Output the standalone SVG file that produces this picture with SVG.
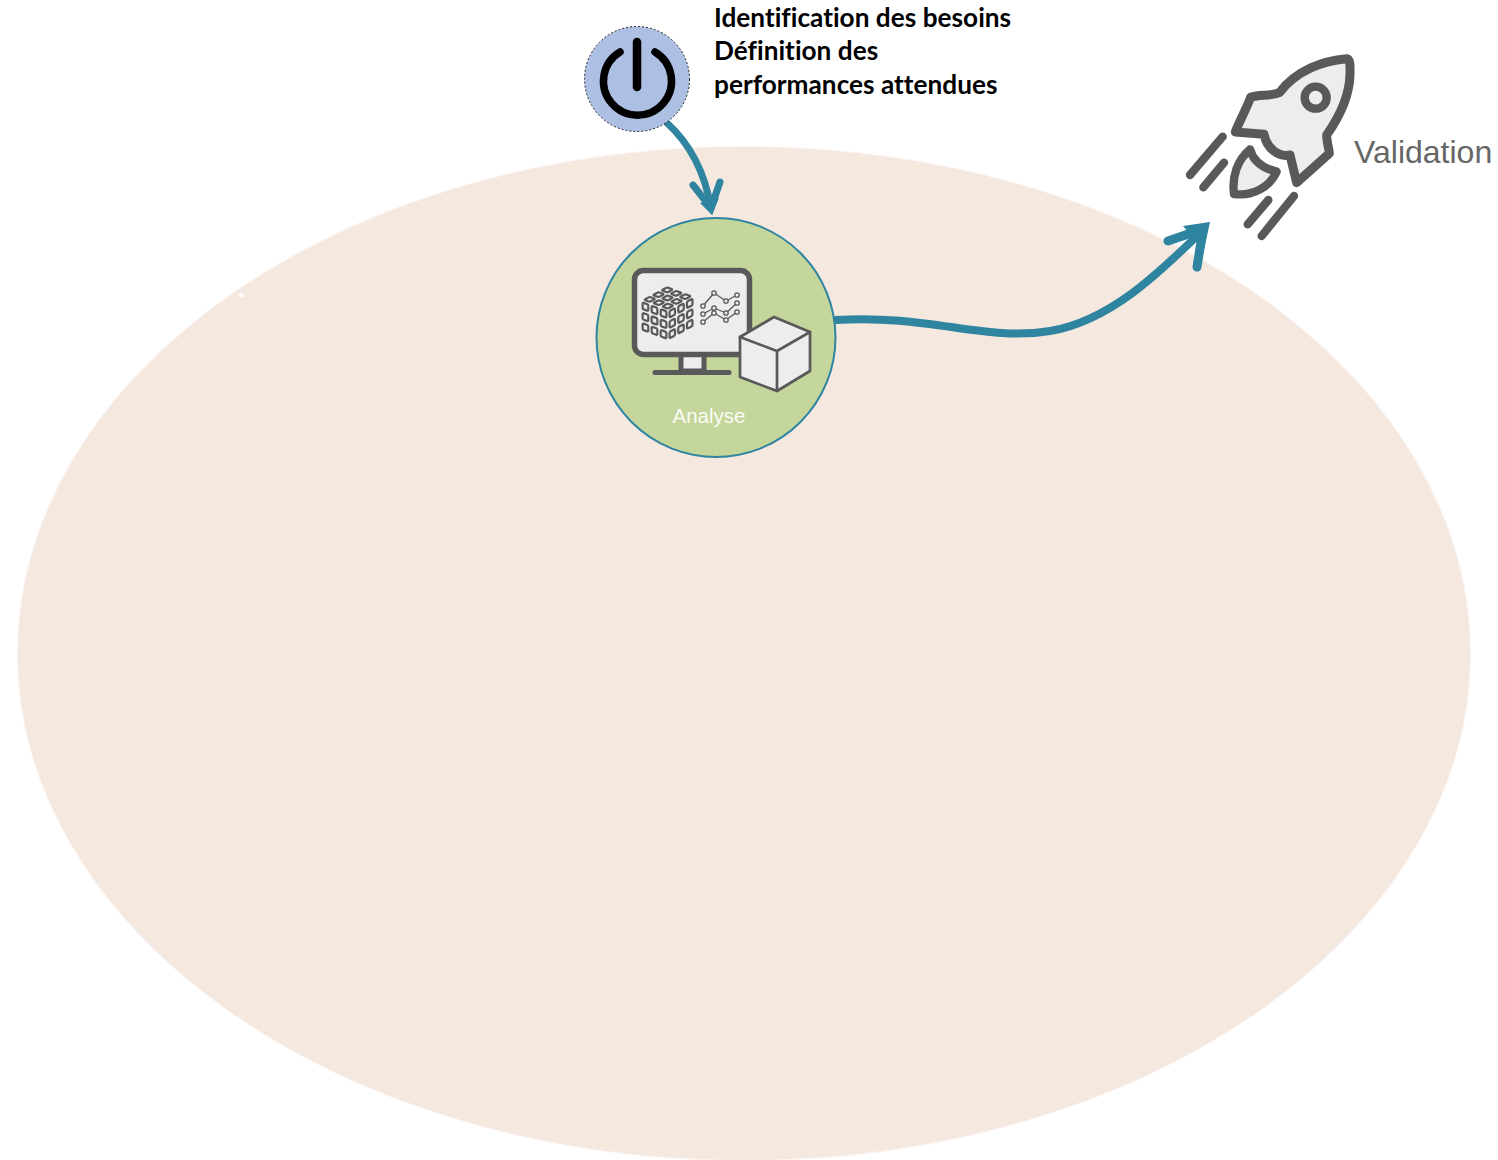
<svg xmlns="http://www.w3.org/2000/svg" xmlns:xlink="http://www.w3.org/1999/xlink" width="1498" height="1160" viewBox="0 0 1498 1160">
<style>
.title{font-family:"Lato","Open Sans",sans-serif;font-weight:700;font-size:26.2px;fill:#000;font-variant-ligatures:none;letter-spacing:.02px}
.ink{fill:none;stroke:#595959;stroke-linecap:round;stroke-linejoin:round}
.pale{fill:#ededed;stroke:#595959;stroke-linejoin:round}
.conn{fill:none;stroke:#2f84a0;stroke-linecap:round}
.head{fill:none;stroke:#2f84a0;stroke-linecap:round;stroke-linejoin:miter;stroke-miterlimit:10}
.tip{fill:#2f84a0}
.cell{fill:#ededed;stroke:#595959;stroke-width:2.2px;vector-effect:non-scaling-stroke}
.dot{fill:#ededed;stroke:#595959;stroke-width:1.3}
</style>
<defs>
<rect id="c" class="cell" width=".21" height=".21" rx=".04"/>
<g id="face">
<use xlink:href="#c" x=".06" y=".06"/><use xlink:href="#c" x=".395" y=".06"/><use xlink:href="#c" x=".73" y=".06"/>
<use xlink:href="#c" x=".06" y=".395"/><use xlink:href="#c" x=".395" y=".395"/><use xlink:href="#c" x=".73" y=".395"/>
<use xlink:href="#c" x=".06" y=".73"/><use xlink:href="#c" x=".395" y=".73"/><use xlink:href="#c" x=".73" y=".73"/>
</g>
<circle id="d" class="dot" r="2.2"/>
</defs>
<g id="background">
<ellipse cx="744" cy="653.5" rx="726" ry="506.5" fill="#f5e8df" stroke="#f5e8df" stroke-opacity=".5" stroke-width="2"/>
<circle cx="241" cy="295" r="2.500" fill="#fff"/>
</g>
<g id="connectors">
<path class="conn" stroke-width="7" d="M667,123 C688,142 704,168 711,208"/>
<path class="head" stroke-width="7" d="M693,185 L711,208 L720,182"/>
<path class="tip" d="M700,203 L712,215 L719,198 Z"/>
<path class="conn" stroke-width="8" d="M836,320 C930,314 985,342 1050,331 C1110,321 1160,272 1200,233"/>
<path class="head" stroke-width="9" d="M1168,241 L1203,229 L1197,267"/>
<path class="tip" d="M1183,226 L1210,222 L1204,250 Z"/>
</g>
<g id="node-start">
<circle cx="637" cy="79" r="52.500" fill="#aebfe4" stroke="#222" stroke-width="1" stroke-dasharray="2 2"/>
<path d="M620,52 A34,34 0 1 0 655,52" fill="none" stroke="#000" stroke-width="7.500" stroke-linecap="round"/>
<path d="M637,42 V87" fill="none" stroke="#000" stroke-width="8.500" stroke-linecap="round"/>
<text class="title" x="714" y="27">Identification des besoins</text>
<text class="title" x="714" y="60">Définition des</text>
<text class="title" x="714" y="94">performances attendues</text>
</g>
<g id="node-analyse">
<circle cx="716" cy="337.500" r="119.500" fill="#c4d69b" stroke="#2f84a0" stroke-width="2"/>
<rect x="681" y="354" width="23" height="17" class="pale" stroke-width="5"/>
<path class="ink" stroke-width="5" d="M655,372.500 H729"/>
<rect x="634.500" y="270.500" width="115" height="84" rx="9" class="pale" stroke-width="5.500"/>
<g transform="matrix(-26,14,27,10,667,286)"><use xlink:href="#face"/></g>
<g transform="matrix(27,10,0,31,641,300)"><use xlink:href="#face"/></g>
<g transform="matrix(26,-14,0,31,668,310)"><use xlink:href="#face"/></g>
<g class="ink" stroke-width="1.300">
<path d="M703,306 L714,293 L726,301 L737,295"/>
<path d="M703,314 L714,308 L726,313 L737,303"/>
<path d="M703,322 L714,313 L726,320 L737,312"/>
</g>
<use xlink:href="#d" x="703" y="306"/><use xlink:href="#d" x="714" y="293"/><use xlink:href="#d" x="726" y="301"/><use xlink:href="#d" x="737" y="295"/>
<use xlink:href="#d" x="703" y="314"/><use xlink:href="#d" x="714" y="308"/><use xlink:href="#d" x="726" y="313"/><use xlink:href="#d" x="737" y="303"/>
<use xlink:href="#d" x="703" y="322"/><use xlink:href="#d" x="714" y="313"/><use xlink:href="#d" x="726" y="320"/><use xlink:href="#d" x="737" y="312"/>
<path class="pale" stroke-width="2.700" d="M774,317 L810,332 V371 L777,391 L740,377 V337 Z"/>
<path class="ink" stroke-width="2.700" d="M740,337 L777,351 L810,332 M777,351 V391"/>
<text x="709" y="423" text-anchor="middle" font-family="'Liberation Sans',Arial,sans-serif" font-size="20.500" fill="#fbfcf6">Analyse</text>
</g>
<g id="node-validation">
<g transform="translate(1150,40) scale(.33333)">
<path class="pale" stroke-width="27" d="M590,56 C602,58 600,78 600,105 C598,165 570,228 530,285 C530,305 537,325 538,340 L440,428 L420,345 C385,352 350,325 342,283 L256,276 C270,240 290,205 302,172 C330,162 360,170 388,158 C440,90 520,62 590,56 Z"/>
<circle cx="497" cy="173" r="33" class="pale" stroke-width="25"/>
<path class="pale" stroke-width="25" d="M300,328 C262,360 245,410 252,462 C310,470 360,440 380,395 C340,385 310,365 300,328 Z"/>
<path class="ink" stroke-width="25" d="M120,405 L218,290 M160,442 L222,368 M293,553 L355,480 M335,588 L432,468"/>
</g>
<text x="1354" y="163" font-family="'Liberation Sans',Arial,sans-serif" font-size="32" fill="#666">Validation</text>
</g>
</svg>
